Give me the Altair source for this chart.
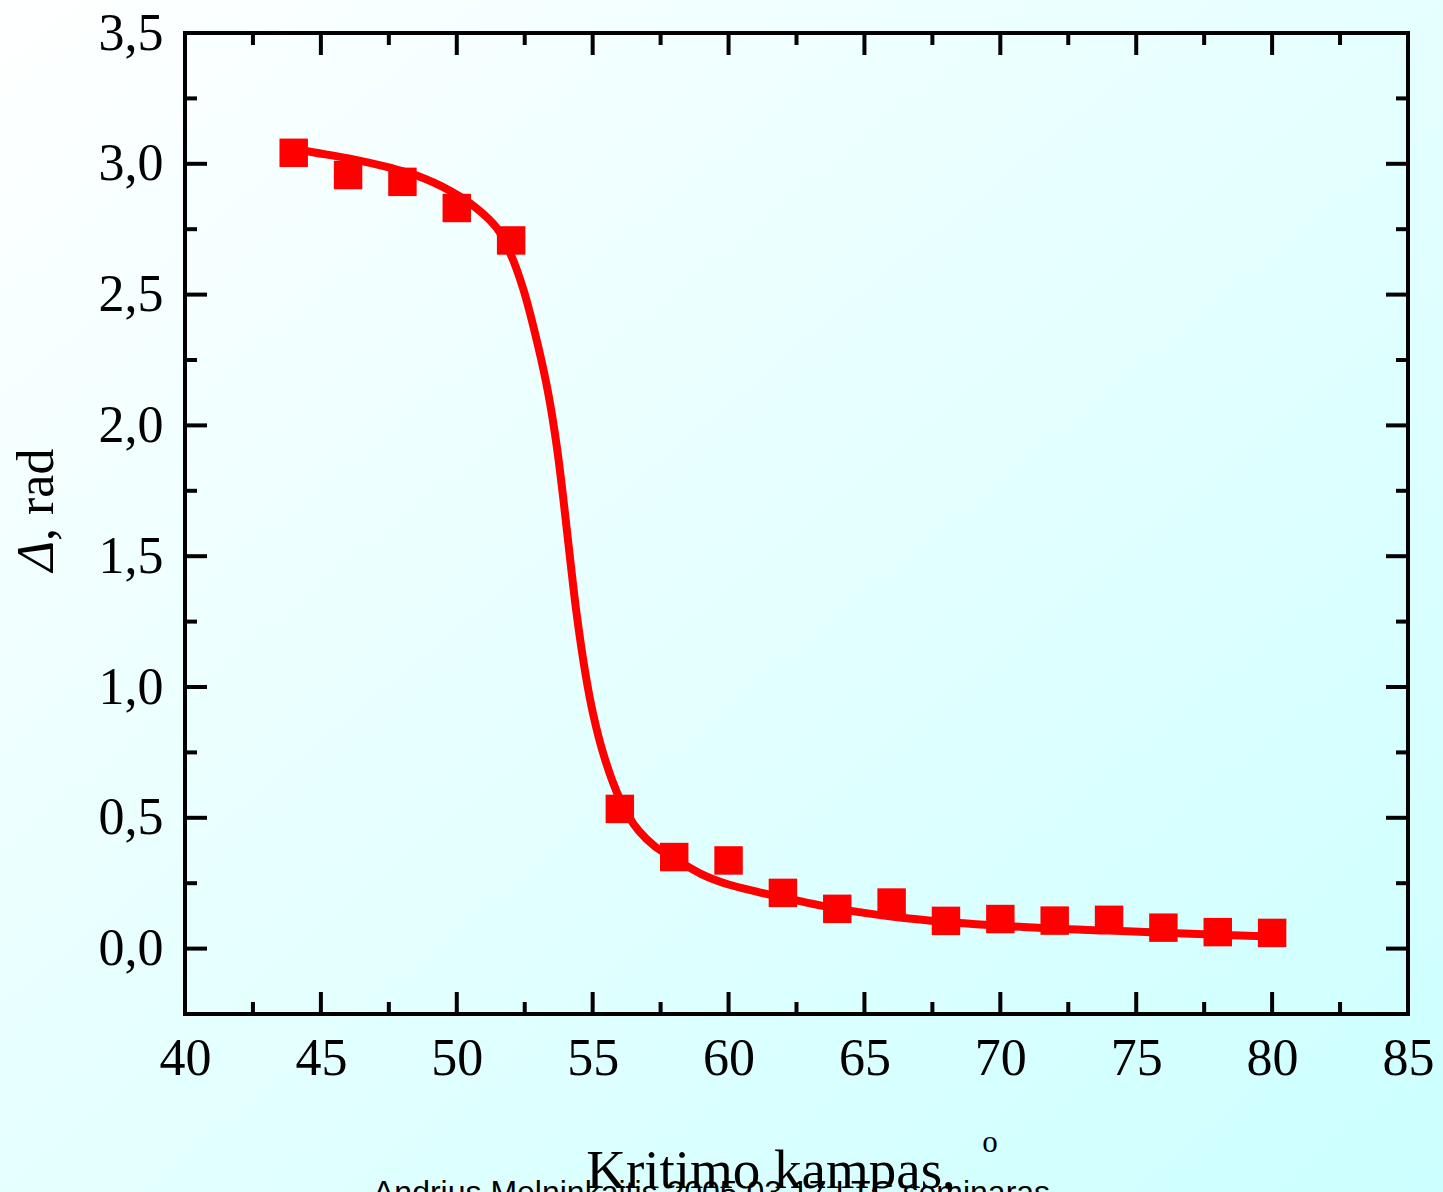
import altair as alt
import pandas as pd

# ---- data ----
angle_pts = [44, 46, 48, 50, 52, 56, 58, 60, 62, 64, 66, 68, 70, 72, 74, 76, 78, 80]
delta_pts = [3.042, 2.957, 2.931, 2.831, 2.707, 0.534, 0.350, 0.337, 0.213, 0.152,
             0.176, 0.106, 0.113, 0.107, 0.110, 0.080, 0.063, 0.060]

fit_x = [44, 44.5, 46.07, 47.54, 48.52, 49.75, 50.73, 51.47, 51.96, 52.45, 53.0, 53.37,
         53.68, 53.92, 54.17, 54.41, 54.72, 55.02, 55.39, 55.88, 56.3, 56.7, 57.3, 58, 59,
         60, 61, 62, 64, 66, 68, 70, 72, 74, 76, 78, 80]
fit_y = [3.06, 3.048, 3.02, 2.985, 2.955, 2.897, 2.83, 2.755, 2.66, 2.52, 2.30, 2.12,
         1.92, 1.72, 1.49, 1.28, 1.06, 0.895, 0.745, 0.60, 0.51, 0.45, 0.39, 0.345, 0.285,
         0.245, 0.219, 0.195, 0.153, 0.123, 0.102, 0.088, 0.076, 0.069, 0.061, 0.053, 0.046]

x_major = [40, 45, 50, 55, 60, 65, 70, 75, 80, 85]
x_minor = [42.5, 47.5, 52.5, 57.5, 62.5, 67.5, 72.5, 77.5, 82.5]
y_major = [0.0, 0.5, 1.0, 1.5, 2.0, 2.5, 3.0, 3.5]
y_minor = [-0.25, 0.25, 0.75, 1.25, 1.75, 2.25, 2.75, 3.25]

x_title = "Kritimo kampas,"
x_title_sup = "o"
y_title_sym = "Δ"
y_title_rest = ", rad"
footer = "Andrius Melninkaitis 2005 03 17 LTC seminaras"

# ---- layout ----
W, H = 1223, 981
PAD = {"left": 185, "top": 33, "right": 35, "bottom": 178}
SERIF = "Liberation Serif"
RED = "#ff0000"
MAJ, MIN = 22, 12

xs = alt.Scale(domain=[40, 85], nice=False, zero=False)
ys = alt.Scale(domain=[-0.25, 3.5], nice=False, zero=False)

xaxis = alt.Axis(values=x_major, format="d", title=None, domain=False, ticks=False,
                 grid=False, labelFont=SERIF, labelFontSize=52, labelColor="black",
                 labelPadding=19, labelFlush=False, labelOverlap=False, zindex=2)
yaxis = alt.Axis(values=y_major, labelExpr="replace(format(datum.value, '.1f'), '.', ',')",
                 title=None, domain=False, ticks=False, grid=False, labelFont=SERIF,
                 labelFontSize=52, labelColor="black", labelPadding=22,
                 labelFlush=False, labelOverlap=False, zindex=2)

one = pd.DataFrame({"a": [0]})

bg = alt.Chart(one).mark_rect(
    color=alt.Gradient(gradient="linear",
                       stops=[alt.GradientStop(color="#ffffff", offset=0),
                              alt.GradientStop(color="#ccffff", offset=1)],
                       x1=0, y1=0, x2=1, y2=1)
).encode(x=alt.value(-PAD["left"]), x2=alt.value(W + PAD["right"]),
         y=alt.value(-PAD["top"]), y2=alt.value(H + PAD["bottom"]))

fit_df = pd.DataFrame({"x": fit_x, "y": fit_y})
pts_df = pd.DataFrame({"x": angle_pts, "y": delta_pts})

line = alt.Chart(fit_df).mark_line(color=RED, strokeWidth=8, interpolate="catmull-rom").encode(
    x=alt.X("x:Q", scale=xs, axis=xaxis), y=alt.Y("y:Q", scale=ys, axis=yaxis))
pts = alt.Chart(pts_df).mark_square(color=RED, size=810, opacity=1).encode(
    x=alt.X("x:Q", scale=xs, axis=xaxis), y=alt.Y("y:Q", scale=ys, axis=yaxis))


def xticks(vals, y0, y1):
    return alt.Chart(pd.DataFrame({"x": vals})).mark_rule(color="black", strokeWidth=4).encode(
        x=alt.X("x:Q", scale=xs, axis=xaxis), y=alt.value(y0), y2=alt.value(y1))


def yticks(vals, x0, x1):
    return alt.Chart(pd.DataFrame({"y": vals})).mark_rule(color="black", strokeWidth=4).encode(
        y=alt.Y("y:Q", scale=ys, axis=yaxis), x=alt.value(x0), x2=alt.value(x1))


ticks = [
    xticks(x_major, H, H - MAJ), xticks(x_minor, H, H - MIN),
    xticks(x_major, 0, MAJ), xticks(x_minor, 0, MIN),
    yticks(y_major, 0, MAJ), yticks(y_minor, 0, MIN),
    yticks(y_major, W, W - MAJ), yticks(y_minor, W, W - MIN),
]

frame = alt.Chart(one).mark_rect(fillOpacity=0, stroke="black", strokeWidth=4).encode(
    x=alt.value(0), x2=alt.value(W), y=alt.value(0), y2=alt.value(H))


def label(text, x, y, size, font=SERIF, align="center", angle=0, style="normal", baseline="alphabetic"):
    return alt.Chart(one).mark_text(text=text, font=font, fontSize=size, align=align,
                                    angle=angle, fontStyle=style, baseline=baseline,
                                    color="black").encode(x=alt.value(x), y=alt.value(y))


texts = [
    label(x_title, 586, 1155, 55),
    label(x_title_sup, 805, 1119, 31),
    label(footer, 188, 1170, 32, font="Liberation Sans", align="left"),
    label(y_title_sym, -132, 508, 52, align="right", angle=270, style="italic"),
    label(y_title_rest, -132, 508, 52, align="left", angle=270),
]

chart = alt.layer(bg, line, pts, *ticks, frame, *texts).properties(
    width=W, height=H, padding=PAD, autosize=alt.AutoSizeParams(type="none"),
    background="#e6ffff"
).configure_view(stroke=None)

chart.save("out.html", embed_options={"renderer": "svg", "actions": False})
